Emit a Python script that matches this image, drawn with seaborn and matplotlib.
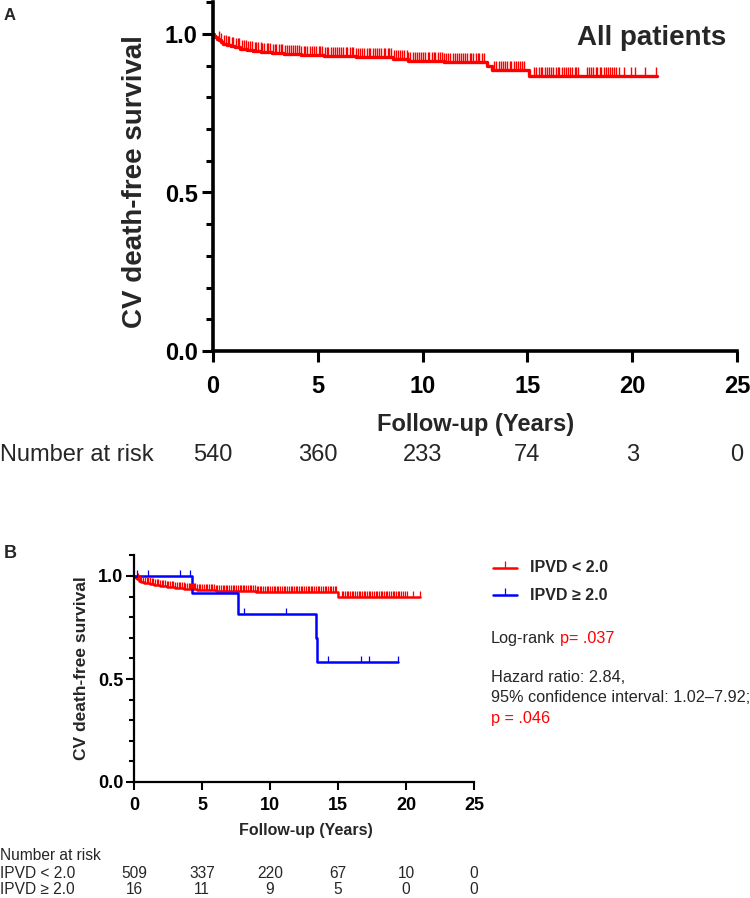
import numpy as np
import pandas as pd
import matplotlib
matplotlib.use("Agg")
import matplotlib.pyplot as plt
import matplotlib.transforms as mtransforms
from matplotlib.lines import Line2D
from matplotlib.ticker import MultipleLocator
import seaborn as sns

# ---------------- data ----------------
# Panel A: all patients (Kaplan-Meier step points: time of event, survival after event)
a_times = [0, 0.05, 0.1, 0.18, 0.27, 0.38, 0.5, 0.65, 0.85, 1.05, 1.3, 1.6, 1.9, 2.3, 2.8,
           3.4, 4.2, 5.3, 6.8, 7.4, 8.6, 9.3, 11.0, 13.05, 13.3, 15.1]
a_surv = [1.0, 0.995, 0.99, 0.985, 0.98, 0.975, 0.97, 0.966, 0.962, 0.958, 0.954, 0.95, 0.947,
          0.944, 0.941, 0.938, 0.935, 0.932, 0.929, 0.926, 0.922, 0.916, 0.912, 0.898, 0.886, 0.866]
a_end = 21.2
a_censor = [0.31, 0.39, 0.52, 0.6, 0.71, 0.78, 0.9, 0.97, 1.08, 1.2, 1.26, 1.37, 1.5, 1.56,
            1.68, 1.77, 1.85, 1.98, 2.04, 2.16, 2.27, 2.33, 2.45, 2.58, 2.64, 2.73, 2.86, 2.95,
            3.02, 3.15, 3.24, 3.31, 3.44, 3.52, 3.63, 3.7, 3.82, 3.93, 4.01, 4.12, 4.2, 4.33,
            4.41, 4.5, 4.63, 4.72, 4.8, 4.91, 5.04, 5.11, 5.2, 5.33, 5.42, 5.5, 5.61, 5.73, 5.8,
            5.92, 6.03, 6.1, 6.22, 6.35, 6.41, 6.52, 6.64, 6.7, 6.83, 6.94, 7.02, 7.13, 7.21,
            7.34, 7.45, 7.51, 7.62, 7.74, 7.83, 7.9, 8.03, 8.14, 8.2, 8.33, 8.42, 8.5, 8.64, 8.72,
            8.81, 8.93, 9.02, 9.11, 9.24, 9.32, 9.4, 9.53, 9.65, 9.71, 9.83, 9.92, 10.01, 10.13,
            10.24, 10.3, 10.43, 10.55, 10.61, 10.72, 10.84, 10.93, 11.0, 11.14, 11.22, 11.31,
            11.45, 11.53, 11.62, 11.74, 11.81, 11.93, 12.04, 12.12, 12.25, 12.33, 12.42, 12.55,
            12.63, 12.71, 12.84, 12.95, 13.42, 13.5, 13.63, 13.72, 13.85, 13.93, 14.04, 14.15,
            14.22, 14.36, 14.45, 14.53, 14.66, 14.74, 14.85, 15.33, 15.42, 15.55, 15.63, 15.71,
            15.84, 15.95, 16.02, 16.14, 16.23, 16.35, 16.44, 16.52, 16.65, 16.73, 16.84, 16.95,
            17.03, 17.15, 17.26, 17.34, 17.43, 17.83, 17.94, 18.02, 18.13, 18.25, 18.34, 18.45,
            18.53, 18.66, 18.75, 18.84, 18.93, 19.05, 19.14, 19.25, 19.35, 19.6, 19.92, 20.12,
            20.6, 21.15]
a_risk_x = [0, 5, 10, 15, 20, 25]
a_risk = [540, 360, 233, 74, 3, 0]

# Panel B: IPVD < 2.0 (red) and IPVD >= 2.0 (blue)
lo_times = [0, 0.05, 0.12, 0.22, 0.35, 0.5, 0.7, 0.95, 1.2, 1.5, 1.9, 2.4, 3.0, 3.7, 4.6,
            6.0, 7.3, 9.0, 11.5, 15.0]
lo_surv = [1.0, 0.995, 0.99, 0.984, 0.978, 0.973, 0.968, 0.964, 0.961, 0.955, 0.95, 0.945,
           0.941, 0.937, 0.933, 0.929, 0.926, 0.923, 0.92, 0.898]
lo_end = 21.0
lo_censor = [0.3, 0.44, 0.55, 0.68, 0.8, 0.93, 1.03, 1.17, 1.29, 1.4, 1.55, 1.66, 1.79, 1.9,
             2.03, 2.15, 2.28, 2.4, 2.53, 2.63, 2.78, 2.9, 3.02, 3.14, 3.28, 3.38, 3.52, 3.65,
             3.75, 3.89, 4.01, 4.14, 4.26, 4.39, 4.5, 4.64, 4.75, 4.88, 5.01, 5.13, 5.27, 5.37,
             5.51, 5.63, 5.75, 5.88, 6.01, 6.12, 6.26, 6.38, 6.51, 6.62, 6.76, 6.87, 7.01, 7.13,
             7.26, 7.37, 7.51, 7.62, 7.76, 7.88, 8.01, 8.12, 8.26, 8.38, 8.51, 8.62, 8.76, 8.88,
             9.01, 9.13, 9.26, 9.37, 9.51, 9.62, 9.76, 9.88, 10.01, 10.12, 10.26, 10.38, 10.51,
             10.62, 10.76, 10.87, 11.01, 11.13, 11.26, 11.37, 11.51, 11.63, 11.76, 11.88, 12.01,
             12.12, 12.26, 12.38, 12.51, 12.62, 12.76, 12.88, 13.01, 13.12, 13.26, 13.37, 13.51,
             13.62, 13.76, 13.88, 14.01, 14.12, 14.26, 14.38, 14.51, 14.62, 14.76, 14.88, 15.26,
             15.38, 15.51, 15.63, 15.76, 15.88, 16.01, 16.13, 16.26, 16.38, 16.51, 16.62, 16.76,
             16.88, 17.01, 17.13, 17.26, 17.38, 17.51, 17.63, 17.76, 17.88, 18.01, 18.13, 18.26,
             18.38, 18.51, 18.63, 18.76, 18.88, 19.01, 19.13, 19.26, 19.38, 19.51, 19.63, 19.76,
             19.9, 20.05, 20.5, 21.0]
hi_times = [0, 4.25, 7.65, 13.35, 13.45]
hi_surv = [1.0, 0.917, 0.817, 0.70, 0.584]
hi_end = 19.4
hi_censor = [0.2, 1.0, 3.4, 4.1, 8.1, 11.2, 14.3, 16.7, 17.3, 19.4]
b_risk_x = [0, 5, 10, 15, 20, 25]
b_risk_lo = [509, 337, 220, 67, 10, 0]
b_risk_hi = [16, 11, 9, 5, 0, 0]

RED = "#ff0000"
BLUE = "#0000ff"

# ---------------- helpers ----------------
def km_frame(times, surv, end):
    return pd.DataFrame({"t": list(times) + [end], "s": list(surv) + [surv[-1]]})

def censor_frame(times, surv, ctimes):
    idx = np.searchsorted(np.asarray(times), np.asarray(ctimes), side="right") - 1
    return pd.DataFrame({"t": ctimes, "s": np.asarray(surv)[idx]})

TICK = [(0, 0), (0, 1)]

sns.set_style("ticks")
plt.rcParams["font.family"] = ["Liberation Sans", "DejaVu Sans"]

W, H = 750, 898
fig = plt.figure(figsize=(W / 100, H / 100), dpi=100)

def axes_px(left, right, top, bottom):
    return fig.add_axes([left / W, 1 - bottom / H, (right - left) / W, (bottom - top) / H])

def style_axes(ax, spine_w, maj_len, min_len, tick_w, fs, xpad, ypad):
    ax.set_xlim(0, 25)
    ax.set_ylim(0, 1.1)
    ax.set_xticks([0, 5, 10, 15, 20, 25])
    ax.set_yticks([0, 0.5, 1.0])
    ax.set_yticklabels(["0.0", "0.5", "1.0"])
    ax.yaxis.set_minor_locator(MultipleLocator(0.1))
    sns.despine(ax=ax)
    for sp in ["left", "bottom"]:
        ax.spines[sp].set_linewidth(spine_w)
        ax.spines[sp].set_color("black")
    ax.tick_params(axis="both", which="major", length=maj_len, width=tick_w, colors="black",
                   labelsize=fs)
    ax.tick_params(axis="x", which="major", pad=xpad)
    ax.tick_params(axis="y", which="major", pad=ypad)
    ax.tick_params(axis="y", which="minor", length=min_len, width=tick_w, colors="black")
    ax.tick_params(axis="x", which="minor", length=0)
    for lab in ax.get_xticklabels() + ax.get_yticklabels():
        lab.set_fontweight("bold")
    ax.set_facecolor("white")

# ---------------- Panel A ----------------
axA = axes_px(213, 737, 351 - 1.1 * 317, 351)
dfA = km_frame(a_times, a_surv, a_end)
sns.lineplot(data=dfA, x="t", y="s", ax=axA, color=RED, lw=2.4, drawstyle="steps-post",
             estimator=None, sort=False, clip_on=False)
cA = censor_frame(a_times, a_surv, a_censor)
sns.scatterplot(data=cA, x="t", y="s", ax=axA, marker=TICK, s=150, color=RED,
                edgecolor=RED, linewidth=1.0, zorder=3)
style_axes(axA, 2.6, 8, 5, 2.2, 17, 9, 3)
axA.set_xlabel("Follow-up (Years)", fontsize=17, fontweight="bold", va="center")
axA.xaxis.set_label_coords((476 - 213) / 524, (351 - 425) / 349)
axA.set_ylabel("CV death-free survival", fontsize=20, fontweight="bold", va="center")
axA.yaxis.set_label_coords((135 - 213) / 524, (351 - 181) / 349)
axA.text((652 - 213) / 524, (351 - 38) / 349, "All patients", transform=axA.transAxes,
         fontsize=20, fontweight="bold", ha="center", va="center")
fig.text(10 / W, 1 - 15 / H, "A", fontsize=12, fontweight="bold", ha="center", va="center")

trA = mtransforms.blended_transform_factory(axA.transData, fig.transFigure)
fig.text(0, 1 - 455 / H, "Number at risk", fontsize=17, ha="left", va="center")
for xv, n in zip(a_risk_x, a_risk):
    fig.text(xv, 1 - 455 / H, str(n), transform=trA, fontsize=17, ha="center", va="center")

# ---------------- Panel B ----------------
axB = axes_px(134, 474, 782 - 1.1 * 206, 782)
dfLo = km_frame(lo_times, lo_surv, lo_end)
dfHi = km_frame(hi_times, hi_surv, hi_end)
sns.lineplot(data=dfLo, x="t", y="s", ax=axB, color=RED, lw=1.8, drawstyle="steps-post",
             estimator=None, sort=False, clip_on=False)
sns.lineplot(data=dfHi, x="t", y="s", ax=axB, color=BLUE, lw=1.8, drawstyle="steps-post",
             estimator=None, sort=False, clip_on=False)
cLo = censor_frame(lo_times, lo_surv, lo_censor)
cHi = censor_frame(hi_times, hi_surv, hi_censor)
sns.scatterplot(data=cLo, x="t", y="s", ax=axB, marker=TICK, s=64, color=RED,
                edgecolor=RED, linewidth=0.9, zorder=3)
sns.scatterplot(data=cHi, x="t", y="s", ax=axB, marker=TICK, s=64, color=BLUE,
                edgecolor=BLUE, linewidth=0.9, zorder=3)
style_axes(axB, 1.6, 6, 3.5, 1.5, 13, 5, 1.5)
axB.set_xlabel("Follow-up (Years)", fontsize=11.5, fontweight="bold", va="center")
axB.xaxis.set_label_coords((306 - 134) / 340, (782 - 830) / 226.6)
axB.set_ylabel("CV death-free survival", fontsize=12.5, fontweight="bold", va="center")
axB.yaxis.set_label_coords((82 - 134) / 340, (782 - 668) / 226.6)
fig.text(10 / W, 1 - 553 / H, "B", fontsize=13, fontweight="bold", ha="center", va="center")

# legend
for yy, col, lab in [(568, RED, "IPVD < 2.0"), (595, BLUE, "IPVD \u2265 2.0")]:
    fig.add_artist(Line2D([493 / W, 517 / W], [1 - yy / H, 1 - yy / H], color=col, lw=1.8))
    fig.add_artist(Line2D([505 / W], [1 - yy / H], color=col, marker=TICK, markersize=10,
                          markeredgewidth=0.9, linestyle=""))
    fig.text(530 / W, 1 - yy / H, lab, fontsize=11.5, fontweight="bold", ha="left", va="center")

t1 = fig.text(491 / W, 1 - 639 / H, "Log-rank", fontsize=11.7, ha="left", va="center")
axB.annotate("p= .037", xy=(1, 0), xycoords=t1, xytext=(3.3, 0), textcoords="offset points",
             fontsize=11.7, color=RED, ha="left", va="bottom", annotation_clip=False)
fig.text(491 / W, 1 - 678 / H, "Hazard ratio: 2.84,", fontsize=11.7, ha="left", va="center")
fig.text(491 / W, 1 - 698 / H, "95% confidence interval: 1.02\u20137.92;", fontsize=11.7,
         ha="left", va="center")
fig.text(491 / W, 1 - 718 / H, "p = .046", fontsize=11.7, color=RED, ha="left", va="center")

# number at risk B
trB = mtransforms.blended_transform_factory(axB.transData, fig.transFigure)
fig.text(0, 1 - 855 / H, "Number at risk", fontsize=11.2, ha="left", va="center")
fig.text(0, 1 - 873 / H, "IPVD < 2.0", fontsize=11.2, ha="left", va="center")
fig.text(0, 1 - 890 / H, "IPVD \u2265 2.0", fontsize=11.2, ha="left", va="center")
for xv, n1, n2 in zip(b_risk_x, b_risk_lo, b_risk_hi):
    fig.text(xv, 1 - 873 / H, str(n1), transform=trB, fontsize=11.2, ha="center", va="center")
    fig.text(xv, 1 - 890 / H, str(n2), transform=trB, fontsize=11.2, ha="center", va="center")

fig.savefig("out.png", dpi=100, facecolor="white")
